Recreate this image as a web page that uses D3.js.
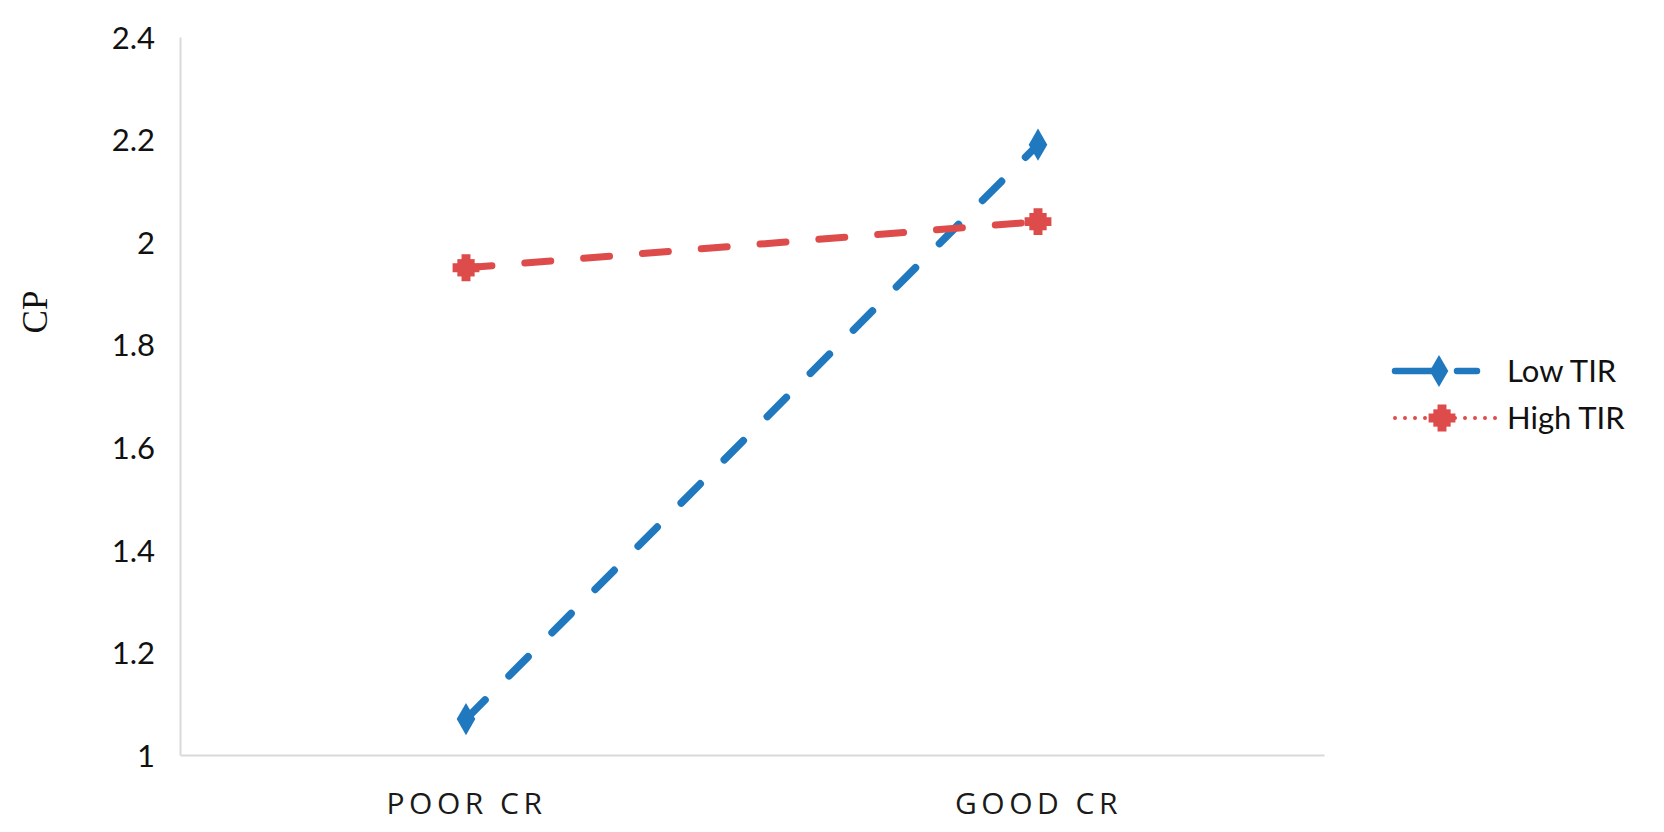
<!DOCTYPE html>
<html>
<head>
<meta charset="utf-8">
<script src="https://cdn.jsdelivr.net/npm/d3@7"></script>
<style>
  body { margin: 0; background: #ffffff; }
  .axis text { font-family: 'Lato', sans-serif; fill: #111; }
  .axis .domain { stroke: #d9d9d9; stroke-width: 2; }
</style>
</head>
<body>
<div class="chart"></div>
<script>
// data
var categories = ["POOR CR", "GOOD CR"];
var lowTIR = [1.07, 2.19];
var highTIR = [1.95, 2.04];
var yTicks = [1, 1.2, 1.4, 1.6, 1.8, 2, 2.2, 2.4];
var yTickLabels = ["1", "1.2", "1.4", "1.6", "1.8", "2", "2.2", "2.4"];
var seriesNames = ["Low TIR", "High TIR"];
var seriesColors = ["#2079be", "#de4b4b"];

var w = 1664;
var h = 832;

var svg = d3.select(".chart")
    .append("svg")
    .attr("width", w)
    .attr("height", h);

var scaleX = d3.scalePoint()
    .domain(categories)
    .range([180, 1324])
    .padding(0.5);

var scaleY = d3.scaleLinear()
    .domain([1, 2.4])
    .range([755, 37]);

// y axis
var axisY = d3.axisLeft(scaleY)
    .tickValues(yTicks)
    .tickFormat(function(d, i) { return yTickLabels[i]; })
    .tickSize(0)
    .tickSizeOuter(0)
    .tickPadding(25);

svg.append("g")
    .attr("class", "axis")
    .attr("transform", "translate(180, 0)")
    .call(axisY)
    .selectAll("text")
    .style("font-size", "31px")
    .attr("dy", "0.36em");

// x axis
var axisX = d3.axisBottom(scaleX)
    .tickSize(0)
    .tickSizeOuter(0)
    .tickPadding(38);

svg.append("g")
    .attr("class", "axis")
    .attr("transform", "translate(0, 755)")
    .call(axisX)
    .selectAll("text")
    .style("font-family", "'Open Sans', sans-serif")
    .style("font-size", "30px")
    .style("letter-spacing", "4.5px")
    .style("fill", "#1a1a1a");

// y title
svg.append("text")
    .attr("transform", "translate(47, 312) rotate(-90)")
    .attr("text-anchor", "middle")
    .style("font-family", "'Liberation Serif', serif")
    .style("font-size", "35px")
    .style("fill", "#111")
    .text("CP");

var line = d3.line()
    .x(function(d, i) { return scaleX(categories[i]); })
    .y(function(d) { return scaleY(d); });

var allSeries = [lowTIR, highTIR];

// lines
svg.selectAll(".series")
    .data(allSeries)
    .enter()
    .append("path")
    .attr("class", "series")
    .attr("d", line)
    .attr("fill", "none")
    .attr("stroke", function(d, i) { return seriesColors[i]; })
    .attr("stroke-width", function(d, i) { return i == 0 ? 7.5 : 7; })
    .attr("stroke-linecap", "round")
    .attr("stroke-dasharray", function(d, i) { return i == 0 ? "27,34" : "26,33"; });

// markers
var diamond = d3.symbol().type(d3.symbolDiamond).size(300);
var square = d3.symbol().type(d3.symbolSquare).size(300);
var cross = d3.symbol().type(d3.symbolCross).size(400);

svg.selectAll(".mk-low")
    .data(lowTIR)
    .enter()
    .append("path")
    .attr("class", "mk-low")
    .attr("d", diamond)
    .attr("transform", function(d, i) { return "translate(" + scaleX(categories[i]) + "," + scaleY(d) + ")"; })
    .attr("fill", seriesColors[0]);

var highGroups = svg.selectAll(".mk-high")
    .data(highTIR)
    .enter()
    .append("g")
    .attr("class", "mk-high")
    .attr("transform", function(d, i) { return "translate(" + scaleX(categories[i]) + "," + scaleY(d) + ")"; });

highGroups.append("path").attr("d", square).attr("fill", seriesColors[1]);
highGroups.append("path").attr("d", cross).attr("fill", seriesColors[1]);

// legend
var legend = svg.selectAll(".legend")
    .data(seriesNames)
    .enter()
    .append("g")
    .attr("class", "legend")
    .attr("transform", function(d, i) { return "translate(1395," + (371 + i * 47) + ")"; });

legend.append("line")
    .attr("x1", 0)
    .attr("x2", 102)
    .attr("y1", 0)
    .attr("y2", 0)
    .attr("stroke", function(d, i) { return seriesColors[i]; })
    .attr("stroke-width", function(d, i) { return i == 0 ? 6.5 : 4; })
    .attr("stroke-linecap", "round")
    .attr("stroke-dasharray", function(d, i) { return i == 0 ? "46,16,20,40" : "0,10"; });

legend.filter(function(d, i) { return i == 0; })
    .append("path")
    .attr("d", diamond)
    .attr("transform", "translate(44,0)")
    .attr("fill", seriesColors[0]);

var legHigh = legend.filter(function(d, i) { return i == 1; })
    .append("g")
    .attr("transform", "translate(47,0)");
legHigh.append("path").attr("d", square).attr("fill", seriesColors[1]);
legHigh.append("path").attr("d", cross).attr("fill", seriesColors[1]);

legend.append("text")
    .attr("x", 112)
    .attr("y", 0)
    .attr("dy", "0.36em")
    .style("font-family", "'Lato', sans-serif")
    .style("font-size", "31px")
    .style("fill", "#111")
    .text(function(d) { return d; });
</script>
</body>
</html>
